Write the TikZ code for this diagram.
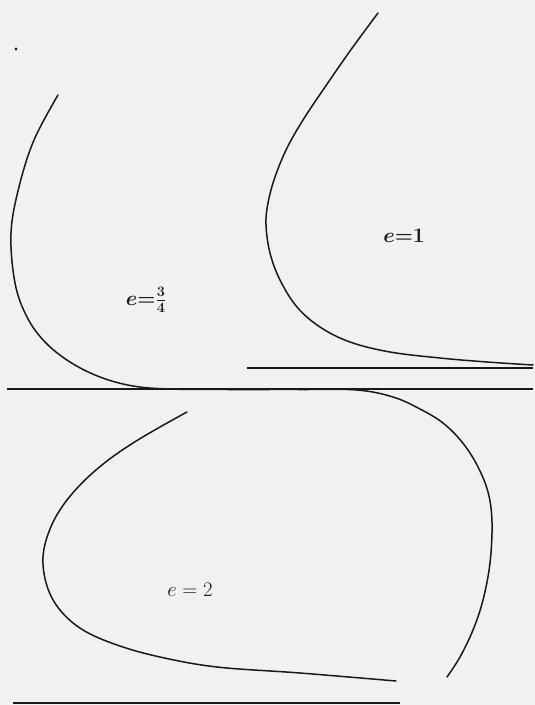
\documentclass[tikz,border=0pt]{standalone}
\usepackage{amsmath}
\definecolor{paper}{RGB}{241, 241, 241}
\definecolor{ink}{RGB}{25, 25, 25}
\tikzset{
    curveline/.style={draw=ink, line width=1.5pt, line cap=round},
    axisline/.style={draw=ink, line width=1.3pt},
    elabel/.style={text=ink, font=\fontsize{20}{24}\selectfont, inner sep=0pt}
}

\begin{document}
\begin{tikzpicture}[x=1pt, y=-1pt]
    % Paper
    \fill[paper] (0,0) rectangle (535,705);
    \useasboundingbox (0,0) rectangle (535,705);

    % Stray dot
    \fill[ink] (16,49) circle (1.6pt);

    % Axes
    \draw[axisline] (7,389) -- (533,389);
    \draw[axisline] (247,368) -- (533,368);
    \draw[axisline] (13,703) -- (400,703);

    % Curve e = 3/4
    \draw[curveline] plot[smooth, tension=0.6] coordinates {(58,95) (34,140) (19,187) (11,233) (15,283) (27,317) (45,342) (70,362) (100,377) (133,386) (170,389) (230,389.5) (300,389.5) (357,390) (393,397) (420,409) (443,423) (462,442) (477,465) (488,492) (492,522) (490,563) (483,600) (473,630) (460,657) (447,677)};

    % Curve e = 1
    \draw[curveline] plot[smooth, tension=0.6] coordinates {(378,13) (350,51) (323,90) (303,120) (287,148) (275,177) (268,203) (266,225) (270,253) (280,280) (297,307) (320,327) (350,342) (390,352) (440,358) (487,362) (533,365)};

    % Curve e = 2
    \draw[curveline] plot[smooth, tension=0.6] coordinates {(187,412) (160,427) (133,443) (107,461) (84,481) (64,504) (50,529) (43,557) (47,586) (60,610) (83,630) (117,645) (160,657) (217,667) (300,673) (396,681)};

    % Labels
    \node[elabel] (lblthreefourths) at (146,300) {$\boldsymbol{e{=}\tfrac{3}{4}}$};
    \node[elabel] (lblone) at (404,236) {$\boldsymbol{e{=}1}$};
    \node[elabel] (lbltwo) at (190,590) {$e=2$};
\end{tikzpicture}
\end{document}
